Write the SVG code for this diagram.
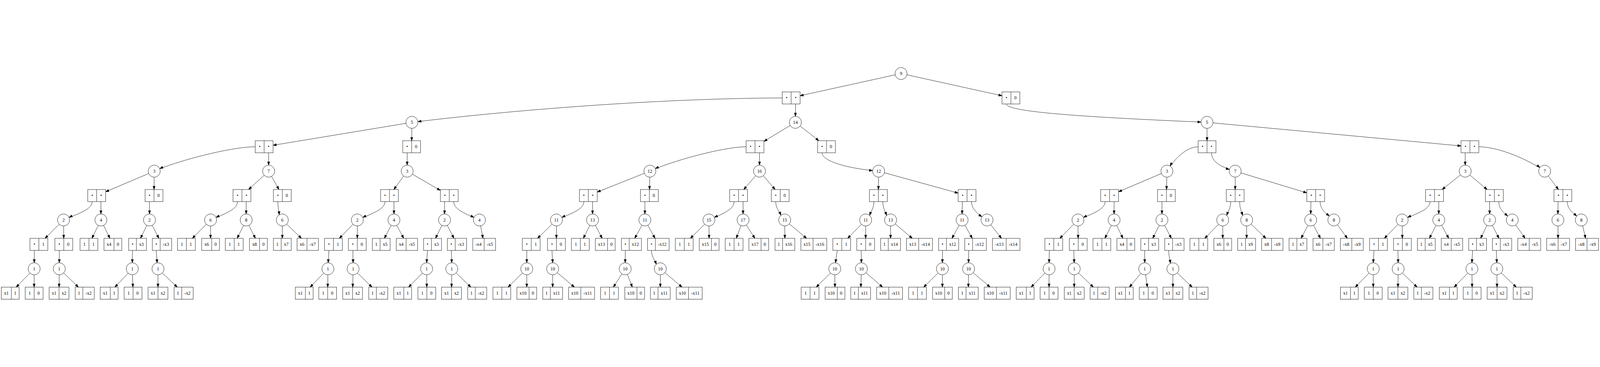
<svg xmlns="http://www.w3.org/2000/svg" width="6421" height="939" viewBox="0 0 6421 939">
<style>
svg{max-width:100vw;max-height:100vh}
text{font-family:"Liberation Serif","Times New Roman",serif;font-size:18.6px;text-anchor:middle;fill:#000}
#edges path{fill:none;stroke:#000;stroke-width:1.33}
#edges .a{marker-end:url(#ma)}
#edges .b{marker-end:url(#mb)}
</style>
<defs>
<marker id="ma" markerUnits="userSpaceOnUse" viewBox="0 0 14 10" markerWidth="14" markerHeight="10" refX="13.25" refY="4.65" orient="auto" overflow="visible"><path d="M0,0L13.25,4.65L0,9.3z" fill="#000" stroke="#000" stroke-width="1.2"/></marker>
<marker id="mb" markerUnits="userSpaceOnUse" viewBox="0 0 14 10" markerWidth="14" markerHeight="10" refX="37.45" refY="4.65" orient="auto" overflow="visible"><path d="M0,0L13.25,4.65L0,9.3z" fill="#000" stroke="#000" stroke-width="1.2"/></marker>
<circle id="C" r="24.2" fill="#fff" stroke="#000" stroke-width="1.33"/>
<g id="T1" fill="#fff" stroke="#000" stroke-width="1.33"><rect x="-35.8" y="-24.2" width="71.6" height="48.4"/><path d="M0,-24.2V24.2"/></g>
<g id="T2" fill="#fff" stroke="#000" stroke-width="1.33"><rect x="-35.8" y="-24.2" width="71.6" height="48.4"/><path d="M4.6,-24.2V24.2"/></g>
<g id="T3" fill="#fff" stroke="#000" stroke-width="1.33"><rect x="-35.8" y="-24.2" width="71.6" height="48.4"/><path d="M-4.6,-24.2V24.2"/></g>
<g id="T4" fill="#fff" stroke="#000" stroke-width="1.33"><rect x="-39.8" y="-24.2" width="79.6" height="48.4"/><path d="M0,-24.2V24.2"/></g>
<g id="T5" fill="#fff" stroke="#000" stroke-width="1.33"><rect x="-38.2" y="-24.2" width="76.4" height="48.4"/><path d="M-7.7,-24.2V24.2"/></g>
<g id="T6" fill="#fff" stroke="#000" stroke-width="1.33"><rect x="-38.7" y="-24.2" width="77.4" height="48.4"/><path d="M-7.2,-24.2V24.2"/></g>
<g id="T7" fill="#fff" stroke="#000" stroke-width="1.33"><rect x="-42.85" y="-24.2" width="85.7" height="48.4"/><path d="M-3.05,-24.2V24.2"/></g>
<g id="T8" fill="#fff" stroke="#000" stroke-width="1.33"><rect x="-45.9" y="-24.2" width="91.8" height="48.4"/><path d="M0,-24.2V24.2"/></g>
<g id="T9" fill="#fff" stroke="#000" stroke-width="1.33"><rect x="-39.75" y="-24.2" width="79.5" height="48.4"/><path d="M9.25,-24.2V24.2"/></g>
<g id="T10" fill="#fff" stroke="#000" stroke-width="1.33"><rect x="-39.75" y="-24.2" width="79.5" height="48.4"/><path d="M-9.25,-24.2V24.2"/></g>
<g id="T11" fill="#fff" stroke="#000" stroke-width="1.33"><rect x="-40.25" y="-24.2" width="80.5" height="48.4"/><path d="M-8.75,-24.2V24.2"/></g>
<g id="T12" fill="#fff" stroke="#000" stroke-width="1.33"><rect x="-43.35" y="-24.2" width="86.7" height="48.4"/><path d="M-11.85,-24.2V24.2"/></g>
<g id="T13" fill="#fff" stroke="#000" stroke-width="1.33"><rect x="-52.1" y="-24.2" width="104.2" height="48.4"/><path d="M-3.1,-24.2V24.2"/></g>
<g id="T14" fill="#fff" stroke="#000" stroke-width="1.33"><rect x="-55.2" y="-24.2" width="110.4" height="48.4"/><path d="M0,-24.2V24.2"/></g>
</defs>
<rect width="6421" height="939" fill="#fff"/>
<g id="edges">
<path class="a" d="M3616,28.4L3210.8,117.5"/>
<path class="a" d="M3616,28.4L4021.2,117.5"/>
<path class="b" d="M3139.2,126.3C2650,128 2050,175 1653,224.2"/>
<path class="a" d="M3193,150.5L3192,200"/>
<path class="b" d="M4039,150.5C4039,185 4400,205 4844,224.2"/>
<path class="a" d="M1653,224.2L1095.8,316.2"/>
<path class="a" d="M1653,224.2L1652.2,297.9"/>
<path class="a" d="M3192,224.2L3065.8,300.5"/>
<path class="a" d="M3192,224.2L3286.1,297.9"/>
<path class="a" d="M4844,224.2L4844,297.9"/>
<path class="a" d="M4844,224.2L5863.2,318.8"/>
<path class="b" d="M1024.2,322.1C920,323 701,382 619,420"/>
<path class="a" d="M1078,346.3L1078,395.8"/>
<path class="a" d="M1634,346.3L1634,395.8"/>
<path class="b" d="M2994.2,322.1C2900,323 2690,381 2608,420"/>
<path class="a" d="M3048,346.3L3048,395.8"/>
<path class="b" d="M3299.1,346.3C3299,378 3390,408 3526,420"/>
<path class="b" d="M4808.2,322.1C4760,323 4712,372 4683,420"/>
<path class="b" d="M4861.9,346.3C4862,385 4904,404.6 4957,420"/>
<path class="a" d="M5880,346.3L5880,395.8"/>
<path class="b" d="M5934.8,322.1C6030,323 6160,390 6199,420"/>
<path class="a" d="M619,420L423.8,502.7"/>
<path class="a" d="M619,420L618.2,493.7"/>
<path class="a" d="M1078,420L997.5,493.7"/>
<path class="a" d="M1078,420L1119.4,493.7"/>
<path class="a" d="M1634,420L1580.6,493.7"/>
<path class="a" d="M1634,420L1767.2,497.2"/>
<path class="a" d="M2608,420L2396.8,503.7"/>
<path class="a" d="M2608,420L2606.5,493.7"/>
<path class="a" d="M3048,420L2984.8,493.7"/>
<path class="a" d="M3048,420L3110.5,493.7"/>
<path class="a" d="M3526,420L3525.2,493.7"/>
<path class="a" d="M3526,420L3845.2,508"/>
<path class="a" d="M4683,420L4488.8,502.7"/>
<path class="a" d="M4683,420L4681.5,493.7"/>
<path class="a" d="M4957,420L4957,493.7"/>
<path class="a" d="M4957,420L5244.2,507"/>
<path class="a" d="M5880,420L5787.4,493.7"/>
<path class="a" d="M5880,420L5968.1,493.7"/>
<path class="a" d="M6199,420L6254,493.7"/>
<path class="b" d="M370.1,542.1C370.1,577 300,594.3 255,615.8"/>
<path class="b" d="M953.1,542.1C953.1,577 890,594.3 845,615.8"/>
<path class="b" d="M1545.1,542.1C1545.1,577 1479,594.3 1434,615.8"/>
<path class="b" d="M1820.9,542.1C1820.9,577 1879,594.3 1924,615.8"/>
<path class="b" d="M2343.1,542.1C2343.1,577 2278,594.3 2233,615.8"/>
<path class="b" d="M2946.1,542.1C2946.1,577 2890,594.3 2845,615.8"/>
<path class="b" d="M3898.9,542.1C3898.9,575 3927.4,594.2 3961,615.8"/>
<path class="b" d="M4435.1,542.1C4435.1,577 4371,594.3 4326,615.8"/>
<path class="b" d="M5297.9,542.1C5297.9,575 5322.6,589.8 5353,615.8"/>
<path class="b" d="M5739.1,542.1C5739.1,577 5672,594.3 5627,615.8"/>
<path class="b" d="M6014.9,542.1C6014.9,575 6038.6,589.8 6069,615.8"/>
<path class="b" d="M6289.9,542.1C6289.9,575 6315.6,589.8 6346,615.8"/>
<path class="a" d="M1115.1,542.1C1115.1,565 1119.5,578 1120.5,595.1"/>
<path class="a" d="M3113.1,542.1C3113.1,568 3127,580 3134,596.8"/>
<path class="a" d="M3507.1,542.1C3507.1,568 3495,582 3490,597.6"/>
<path class="a" d="M3542.9,542.1C3542.9,568 3553,582 3558,597.6"/>
<path class="a" d="M4939.1,542.1C4939.1,568 4928,582 4923,597.6"/>
<path class="a" d="M4974.9,542.1C4974.9,568 4982,582 4987,597.6"/>
<path class="a" d="M405,542.1L405,591.6"/>
<path class="a" d="M600,542.1L600,591.6"/>
<path class="a" d="M988,542.1L988,591.6"/>
<path class="a" d="M1581,542.1L1581,591.6"/>
<path class="a" d="M1784,542.1L1784,591.6"/>
<path class="a" d="M2378,542.1L2378,591.6"/>
<path class="a" d="M2588,542.1L2588,591.6"/>
<path class="a" d="M2982,542.1L2982,591.6"/>
<path class="a" d="M3862,542.1L3861,591.6"/>
<path class="a" d="M4471,542.1L4471,591.6"/>
<path class="a" d="M4663,542.1L4663,591.6"/>
<path class="a" d="M5261,542.1L5260,591.6"/>
<path class="a" d="M5774,542.1L5774,591.6"/>
<path class="a" d="M5978,542.1L5978,591.6"/>
<path class="a" d="M6253,542.1L6252,591.6"/>
<path class="a" d="M255,615.8L180.5,689.5"/>
<path class="a" d="M255,615.8L255.8,689.5"/>
<path class="a" d="M405,615.8L368.9,689.5"/>
<path class="a" d="M405,615.8L441.1,689.5"/>
<path class="a" d="M600,615.8L563.9,689.5"/>
<path class="a" d="M600,615.8L637.6,689.5"/>
<path class="a" d="M845,615.8L772,689.5"/>
<path class="a" d="M845,615.8L845,689.5"/>
<path class="a" d="M988,615.8L951.9,689.5"/>
<path class="a" d="M988,615.8L1024.9,689.5"/>
<path class="a" d="M1133,615.8L1133,689.5"/>
<path class="a" d="M1133,615.8L1209.8,689.5"/>
<path class="a" d="M1434,615.8L1361.7,689.5"/>
<path class="a" d="M1434,615.8L1434,689.5"/>
<path class="a" d="M1581,615.8L1542.6,689.5"/>
<path class="a" d="M1581,615.8L1620.1,689.5"/>
<path class="a" d="M1784,615.8L1747.9,689.5"/>
<path class="a" d="M1784,615.8L1821.6,689.5"/>
<path class="a" d="M1924,615.8L1938.3,689.5"/>
<path class="a" d="M2233,615.8L2157,689.5"/>
<path class="a" d="M2233,615.8L2233,689.5"/>
<path class="a" d="M2378,615.8L2341.1,689.5"/>
<path class="a" d="M2378,615.8L2416.4,689.5"/>
<path class="a" d="M2588,615.8L2547.3,689.5"/>
<path class="a" d="M2588,615.8L2628.7,689.5"/>
<path class="a" d="M2845,615.8L2770.5,689.5"/>
<path class="a" d="M2845,615.8L2845.8,689.5"/>
<path class="a" d="M2982,615.8L2954.9,689.5"/>
<path class="a" d="M2982,615.8L3029.4,689.5"/>
<path class="a" d="M3149,615.8L3149.8,689.5"/>
<path class="a" d="M3149,615.8L3237.1,689.5"/>
<path class="a" d="M3474,615.8L3401.7,689.5"/>
<path class="a" d="M3474,615.8L3474,689.5"/>
<path class="a" d="M3574,615.8L3574,689.5"/>
<path class="a" d="M3574,615.8L3661.3,689.5"/>
<path class="a" d="M3861,615.8L3820.3,689.5"/>
<path class="a" d="M3861,615.8L3901.7,689.5"/>
<path class="a" d="M3961,615.8L4019,689.5"/>
<path class="a" d="M4326,615.8L4253,689.5"/>
<path class="a" d="M4326,615.8L4326.8,689.5"/>
<path class="a" d="M4471,615.8L4434.1,689.5"/>
<path class="a" d="M4471,615.8L4506.4,689.5"/>
<path class="a" d="M4663,615.8L4626.1,689.5"/>
<path class="a" d="M4663,615.8L4700.6,689.5"/>
<path class="a" d="M4907,615.8L4834.7,689.5"/>
<path class="a" d="M4907,615.8L4907,689.5"/>
<path class="a" d="M5003,615.8L5003,689.5"/>
<path class="a" d="M5003,615.8L5080.5,689.5"/>
<path class="a" d="M5260,615.8L5221.6,689.5"/>
<path class="a" d="M5260,615.8L5299.1,689.5"/>
<path class="a" d="M5353,615.8L5407.2,689.5"/>
<path class="a" d="M5627,615.8L5555.5,689.5"/>
<path class="a" d="M5627,615.8L5627.8,689.5"/>
<path class="a" d="M5774,615.8L5736.4,689.5"/>
<path class="a" d="M5774,615.8L5813.9,689.5"/>
<path class="a" d="M5978,615.8L5941.9,689.5"/>
<path class="a" d="M5978,615.8L6015.6,689.5"/>
<path class="a" d="M6069,615.8L6120.2,689.5"/>
<path class="a" d="M6252,615.8L6252.8,689.5"/>
<path class="a" d="M6346,615.8L6363.3,689.5"/>
<path class="a" d="M138,737.9L137.4,787.4"/>
<path class="a" d="M238.1,737.9L238,787.4"/>
<path class="a" d="M531.8,737.9L531,787.4"/>
<path class="a" d="M627,737.9L630.5,787.7"/>
<path class="a" d="M1320.1,737.9L1317,787.4"/>
<path class="a" d="M1416.1,737.9L1417,787.4"/>
<path class="a" d="M1715.8,737.9L1712,787.4"/>
<path class="a" d="M1811,737.9L1813,787.4"/>
<path class="a" d="M2114.1,737.9L2114,787.4"/>
<path class="a" d="M2215.1,737.9L2218,787.4"/>
<path class="a" d="M2509.5,737.9L2509,787.4"/>
<path class="a" d="M2614.4,737.9C2614.4,762 2628,778 2634,793.4"/>
<path class="a" d="M3360.1,737.9L3353,787.6"/>
<path class="a" d="M3456.1,737.9L3457,787.4"/>
<path class="a" d="M3782.5,737.9L3782,787.4"/>
<path class="a" d="M3887.4,737.9L3887,787.4"/>
<path class="a" d="M4211.1,737.9L4210,787.4"/>
<path class="a" d="M4309.1,737.9L4311,787.4"/>
<path class="a" d="M4593.8,737.9L4594,787.4"/>
<path class="a" d="M4690,737.9C4690,760 4695,772 4697,789.6"/>
<path class="a" d="M5514.1,737.9L5511,787.4"/>
<path class="a" d="M5610.1,737.9L5611,787.4"/>
<path class="a" d="M5909.8,737.9L5907,787.4"/>
<path class="a" d="M6005,737.9L6007,787.4"/>
<path class="a" d="M137,811.6L64.7,885.3"/>
<path class="a" d="M137,811.6L137,885.3"/>
<path class="a" d="M238,811.6L237.2,885.3"/>
<path class="a" d="M238,811.6L314.8,885.3"/>
<path class="a" d="M531,811.6L461,885.3"/>
<path class="a" d="M531,811.6L533.3,885.3"/>
<path class="a" d="M634,811.6L634,885.3"/>
<path class="a" d="M634,811.6L711.5,885.3"/>
<path class="a" d="M1316,811.6L1244.5,885.3"/>
<path class="a" d="M1316,811.6L1315.2,885.3"/>
<path class="a" d="M1417,811.6L1415.5,885.3"/>
<path class="a" d="M1417,811.6L1493,885.3"/>
<path class="a" d="M1712,811.6L1639.7,885.3"/>
<path class="a" d="M1712,811.6L1712.8,885.3"/>
<path class="a" d="M1813,811.6L1812.2,885.3"/>
<path class="a" d="M1813,811.6L1889.8,885.3"/>
<path class="a" d="M2114,811.6L2038.7,885.3"/>
<path class="a" d="M2114,811.6L2114,885.3"/>
<path class="a" d="M2218,811.6L2218,885.3"/>
<path class="a" d="M2218,811.6L2305.3,885.3"/>
<path class="a" d="M2509,811.6L2461.6,885.3"/>
<path class="a" d="M2509,811.6L2537.6,885.3"/>
<path class="a" d="M2650,811.6L2650,885.3"/>
<path class="a" d="M2650,811.6L2737.3,885.3"/>
<path class="a" d="M3350,811.6L3275.5,885.3"/>
<path class="a" d="M3350,811.6L3350.8,885.3"/>
<path class="a" d="M3457,811.6L3454.7,885.3"/>
<path class="a" d="M3457,811.6L3542.1,885.3"/>
<path class="a" d="M3782,811.6L3706.7,885.3"/>
<path class="a" d="M3782,811.6L3782,885.3"/>
<path class="a" d="M3887,811.6L3886.2,885.3"/>
<path class="a" d="M3887,811.6L3973.6,885.3"/>
<path class="a" d="M4210,811.6L4137.7,885.3"/>
<path class="a" d="M4210,811.6L4210,885.3"/>
<path class="a" d="M4311,811.6L4311,885.3"/>
<path class="a" d="M4311,811.6L4387.8,885.3"/>
<path class="a" d="M4594,811.6L4532.3,885.3"/>
<path class="a" d="M4594,811.6L4604.5,885.3"/>
<path class="a" d="M4707,811.6L4707,885.3"/>
<path class="a" d="M4707,811.6L4784.5,885.3"/>
<path class="a" d="M5511,811.6L5438.7,885.3"/>
<path class="a" d="M5511,811.6L5511,885.3"/>
<path class="a" d="M5611,811.6L5610.2,885.3"/>
<path class="a" d="M5611,811.6L5687,885.3"/>
<path class="a" d="M5907,811.6L5835.5,885.3"/>
<path class="a" d="M5907,811.6L5907.8,885.3"/>
<path class="a" d="M6007,811.6L6007.8,885.3"/>
<path class="a" d="M6007,811.6L6085.3,885.3"/>
</g>
<g id="nodes">
<g id="n0" transform="translate(3616,28.4)"><use href="#C"/><text y="6">9</text></g>
<g id="n1_1" transform="translate(3175,126.3)"><use href="#T1"/><text x="-17.9" y="6">•</text><text x="17.9" y="6">•</text></g>
<g id="n1_2" transform="translate(4057,126.3)"><use href="#T1"/><text x="-17.9" y="6">•</text><text x="17.9" y="6">0</text></g>
<g id="n2_1" transform="translate(1653,224.2)"><use href="#C"/><text y="6">5</text></g>
<g id="n2_2" transform="translate(3192,224.2)"><use href="#C"/><text y="6">14</text></g>
<g id="n2_3" transform="translate(4844,224.2)"><use href="#C"/><text y="6">5</text></g>
<g id="n3_1" transform="translate(1060,322.1)"><use href="#T1"/><text x="-17.9" y="6">•</text><text x="17.9" y="6">•</text></g>
<g id="n3_2" transform="translate(1652,322.1)"><use href="#T1"/><text x="-17.9" y="6">•</text><text x="17.9" y="6">0</text></g>
<g id="n3_3" transform="translate(3030,322.1)"><use href="#T1"/><text x="-17.9" y="6">•</text><text x="17.9" y="6">•</text></g>
<g id="n3_4" transform="translate(3317,322.1)"><use href="#T1"/><text x="-17.9" y="6">•</text><text x="17.9" y="6">0</text></g>
<g id="n3_5" transform="translate(4844,322.1)"><use href="#T1"/><text x="-17.9" y="6">•</text><text x="17.9" y="6">•</text></g>
<g id="n3_6" transform="translate(5899,322.1)"><use href="#T1"/><text x="-17.9" y="6">•</text><text x="17.9" y="6">•</text></g>
<g id="n4_1" transform="translate(619,420)"><use href="#C"/><text y="6">3</text></g>
<g id="n4_2" transform="translate(1078,420)"><use href="#C"/><text y="6">7</text></g>
<g id="n4_3" transform="translate(1634,420)"><use href="#C"/><text y="6">3</text></g>
<g id="n4_4" transform="translate(2608,420)"><use href="#C"/><text y="6">12</text></g>
<g id="n4_5" transform="translate(3048,420)"><use href="#C"/><text y="6">16</text></g>
<g id="n4_6" transform="translate(3526,420)"><use href="#C"/><text y="6">12</text></g>
<g id="n4_7" transform="translate(4683,420)"><use href="#C"/><text y="6">3</text></g>
<g id="n4_8" transform="translate(4957,420)"><use href="#C"/><text y="6">7</text></g>
<g id="n4_9" transform="translate(5880,420)"><use href="#C"/><text y="6">3</text></g>
<g id="n4_10" transform="translate(6199,420)"><use href="#C"/><text y="6">7</text></g>
<g id="n5_1" transform="translate(388,517.9)"><use href="#T1"/><text x="-17.9" y="6">•</text><text x="17.9" y="6">•</text></g>
<g id="n5_2" transform="translate(618,517.9)"><use href="#T1"/><text x="-17.9" y="6">•</text><text x="17.9" y="6">0</text></g>
<g id="n5_3" transform="translate(971,517.9)"><use href="#T1"/><text x="-17.9" y="6">•</text><text x="17.9" y="6">•</text></g>
<g id="n5_4" transform="translate(1133,517.9)"><use href="#T1"/><text x="-17.9" y="6">•</text><text x="17.9" y="6">0</text></g>
<g id="n5_5" transform="translate(1563,517.9)"><use href="#T1"/><text x="-17.9" y="6">•</text><text x="17.9" y="6">•</text></g>
<g id="n5_6" transform="translate(1803,517.9)"><use href="#T1"/><text x="-17.9" y="6">•</text><text x="17.9" y="6">•</text></g>
<g id="n5_7" transform="translate(2361,517.9)"><use href="#T1"/><text x="-17.9" y="6">•</text><text x="17.9" y="6">•</text></g>
<g id="n5_8" transform="translate(2606,517.9)"><use href="#T1"/><text x="-17.9" y="6">•</text><text x="17.9" y="6">0</text></g>
<g id="n5_9" transform="translate(2964,517.9)"><use href="#T1"/><text x="-17.9" y="6">•</text><text x="17.9" y="6">•</text></g>
<g id="n5_10" transform="translate(3131,517.9)"><use href="#T1"/><text x="-17.9" y="6">•</text><text x="17.9" y="6">0</text></g>
<g id="n5_11" transform="translate(3525,517.9)"><use href="#T1"/><text x="-17.9" y="6">•</text><text x="17.9" y="6">•</text></g>
<g id="n5_12" transform="translate(3881,517.9)"><use href="#T1"/><text x="-17.9" y="6">•</text><text x="17.9" y="6">•</text></g>
<g id="n5_13" transform="translate(4453,517.9)"><use href="#T1"/><text x="-17.9" y="6">•</text><text x="17.9" y="6">•</text></g>
<g id="n5_14" transform="translate(4681,517.9)"><use href="#T1"/><text x="-17.9" y="6">•</text><text x="17.9" y="6">0</text></g>
<g id="n5_15" transform="translate(4957,517.9)"><use href="#T1"/><text x="-17.9" y="6">•</text><text x="17.9" y="6">•</text></g>
<g id="n5_16" transform="translate(5280,517.9)"><use href="#T1"/><text x="-17.9" y="6">•</text><text x="17.9" y="6">•</text></g>
<g id="n5_17" transform="translate(5757,517.9)"><use href="#T1"/><text x="-17.9" y="6">•</text><text x="17.9" y="6">•</text></g>
<g id="n5_18" transform="translate(5997,517.9)"><use href="#T1"/><text x="-17.9" y="6">•</text><text x="17.9" y="6">•</text></g>
<g id="n5_19" transform="translate(6272,517.9)"><use href="#T1"/><text x="-17.9" y="6">•</text><text x="17.9" y="6">•</text></g>
<g id="n6_1" transform="translate(255,615.8)"><use href="#C"/><text y="6">2</text></g>
<g id="n6_2" transform="translate(405,615.8)"><use href="#C"/><text y="6">4</text></g>
<g id="n6_3" transform="translate(600,615.8)"><use href="#C"/><text y="6">2</text></g>
<g id="n6_4" transform="translate(845,615.8)"><use href="#C"/><text y="6">6</text></g>
<g id="n6_5" transform="translate(988,615.8)"><use href="#C"/><text y="6">8</text></g>
<g id="n6_6" transform="translate(1133,615.8)"><use href="#C"/><text y="6">6</text></g>
<g id="n6_7" transform="translate(1434,615.8)"><use href="#C"/><text y="6">2</text></g>
<g id="n6_8" transform="translate(1581,615.8)"><use href="#C"/><text y="6">4</text></g>
<g id="n6_9" transform="translate(1784,615.8)"><use href="#C"/><text y="6">2</text></g>
<g id="n6_10" transform="translate(1924,615.8)"><use href="#C"/><text y="6">4</text></g>
<g id="n6_11" transform="translate(2233,615.8)"><use href="#C"/><text y="6">11</text></g>
<g id="n6_12" transform="translate(2378,615.8)"><use href="#C"/><text y="6">13</text></g>
<g id="n6_13" transform="translate(2588,615.8)"><use href="#C"/><text y="6">11</text></g>
<g id="n6_14" transform="translate(2845,615.8)"><use href="#C"/><text y="6">15</text></g>
<g id="n6_15" transform="translate(2982,615.8)"><use href="#C"/><text y="6">17</text></g>
<g id="n6_16" transform="translate(3149,615.8)"><use href="#C"/><text y="6">15</text></g>
<g id="n6_17" transform="translate(3474,615.8)"><use href="#C"/><text y="6">11</text></g>
<g id="n6_18" transform="translate(3574,615.8)"><use href="#C"/><text y="6">13</text></g>
<g id="n6_19" transform="translate(3861,615.8)"><use href="#C"/><text y="6">11</text></g>
<g id="n6_20" transform="translate(3961,615.8)"><use href="#C"/><text y="6">13</text></g>
<g id="n6_21" transform="translate(4326,615.8)"><use href="#C"/><text y="6">2</text></g>
<g id="n6_22" transform="translate(4471,615.8)"><use href="#C"/><text y="6">4</text></g>
<g id="n6_23" transform="translate(4663,615.8)"><use href="#C"/><text y="6">2</text></g>
<g id="n6_24" transform="translate(4907,615.8)"><use href="#C"/><text y="6">6</text></g>
<g id="n6_25" transform="translate(5003,615.8)"><use href="#C"/><text y="6">8</text></g>
<g id="n6_26" transform="translate(5260,615.8)"><use href="#C"/><text y="6">6</text></g>
<g id="n6_27" transform="translate(5353,615.8)"><use href="#C"/><text y="6">8</text></g>
<g id="n6_28" transform="translate(5627,615.8)"><use href="#C"/><text y="6">2</text></g>
<g id="n6_29" transform="translate(5774,615.8)"><use href="#C"/><text y="6">4</text></g>
<g id="n6_30" transform="translate(5978,615.8)"><use href="#C"/><text y="6">2</text></g>
<g id="n6_31" transform="translate(6069,615.8)"><use href="#C"/><text y="6">4</text></g>
<g id="n6_32" transform="translate(6252,615.8)"><use href="#C"/><text y="6">6</text></g>
<g id="n6_33" transform="translate(6346,615.8)"><use href="#C"/><text y="6">8</text></g>
<g id="n7_1" transform="translate(156,713.7)"><use href="#T1"/><text x="-17.9" y="6">•</text><text x="17.9" y="6">1</text></g>
<g id="n7_2" transform="translate(256,713.7)"><use href="#T1"/><text x="-17.9" y="6">•</text><text x="17.9" y="6">0</text></g>
<g id="n7_3" transform="translate(357,713.7)"><use href="#T1"/><text x="-17.9" y="6">1</text><text x="17.9" y="6">1</text></g>
<g id="n7_4" transform="translate(453,713.7)"><use href="#T2"/><text x="-15.6" y="6">x4</text><text x="20.2" y="6">0</text></g>
<g id="n7_5" transform="translate(552,713.7)"><use href="#T3"/><text x="-20.2" y="6">•</text><text x="15.6" y="6">x3</text></g>
<g id="n7_6" transform="translate(650,713.7)"><use href="#T6"/><text x="-22.95" y="6">•</text><text x="15.75" y="6">-x3</text></g>
<g id="n7_7" transform="translate(748,713.7)"><use href="#T1"/><text x="-17.9" y="6">1</text><text x="17.9" y="6">1</text></g>
<g id="n7_8" transform="translate(845,713.7)"><use href="#T2"/><text x="-15.6" y="6">x6</text><text x="20.2" y="6">0</text></g>
<g id="n7_9" transform="translate(940,713.7)"><use href="#T1"/><text x="-17.9" y="6">1</text><text x="17.9" y="6">1</text></g>
<g id="n7_10" transform="translate(1037,713.7)"><use href="#T2"/><text x="-15.6" y="6">x8</text><text x="20.2" y="6">0</text></g>
<g id="n7_11" transform="translate(1133,713.7)"><use href="#T3"/><text x="-20.2" y="6">1</text><text x="15.6" y="6">x7</text></g>
<g id="n7_12" transform="translate(1235,713.7)"><use href="#T7"/><text x="-22.95" y="6">x6</text><text x="19.9" y="6">-x7</text></g>
<g id="n7_13" transform="translate(1338,713.7)"><use href="#T1"/><text x="-17.9" y="6">•</text><text x="17.9" y="6">1</text></g>
<g id="n7_14" transform="translate(1434,713.7)"><use href="#T1"/><text x="-17.9" y="6">•</text><text x="17.9" y="6">0</text></g>
<g id="n7_15" transform="translate(1530,713.7)"><use href="#T3"/><text x="-20.2" y="6">1</text><text x="15.6" y="6">x5</text></g>
<g id="n7_16" transform="translate(1633,713.7)"><use href="#T7"/><text x="-22.95" y="6">x4</text><text x="19.9" y="6">-x5</text></g>
<g id="n7_17" transform="translate(1736,713.7)"><use href="#T3"/><text x="-20.2" y="6">•</text><text x="15.6" y="6">x3</text></g>
<g id="n7_18" transform="translate(1834,713.7)"><use href="#T6"/><text x="-22.95" y="6">•</text><text x="15.75" y="6">-x3</text></g>
<g id="n7_19" transform="translate(1943,713.7)"><use href="#T8"/><text x="-22.95" y="6">-x4</text><text x="22.95" y="6">-x5</text></g>
<g id="n7_20" transform="translate(2132,713.7)"><use href="#T1"/><text x="-17.9" y="6">•</text><text x="17.9" y="6">1</text></g>
<g id="n7_21" transform="translate(2233,713.7)"><use href="#T1"/><text x="-17.9" y="6">•</text><text x="17.9" y="6">0</text></g>
<g id="n7_22" transform="translate(2329,713.7)"><use href="#T1"/><text x="-17.9" y="6">1</text><text x="17.9" y="6">1</text></g>
<g id="n7_23" transform="translate(2429,713.7)"><use href="#T9"/><text x="-15.25" y="6">x13</text><text x="24.5" y="6">0</text></g>
<g id="n7_24" transform="translate(2534,713.7)"><use href="#T11"/><text x="-24.5" y="6">•</text><text x="15.75" y="6">x12</text></g>
<g id="n7_25" transform="translate(2642,713.7)"><use href="#T12"/><text x="-27.6" y="6">•</text><text x="15.75" y="6">-x12</text></g>
<g id="n7_26" transform="translate(2746,713.7)"><use href="#T1"/><text x="-17.9" y="6">1</text><text x="17.9" y="6">1</text></g>
<g id="n7_27" transform="translate(2846,713.7)"><use href="#T9"/><text x="-15.25" y="6">x15</text><text x="24.5" y="6">0</text></g>
<g id="n7_28" transform="translate(2946,713.7)"><use href="#T1"/><text x="-17.9" y="6">1</text><text x="17.9" y="6">1</text></g>
<g id="n7_29" transform="translate(3045,713.7)"><use href="#T9"/><text x="-15.25" y="6">x17</text><text x="24.5" y="6">0</text></g>
<g id="n7_30" transform="translate(3150,713.7)"><use href="#T10"/><text x="-24.5" y="6">1</text><text x="15.25" y="6">x16</text></g>
<g id="n7_31" transform="translate(3266,713.7)"><use href="#T13"/><text x="-27.6" y="6">x15</text><text x="24.5" y="6">-x16</text></g>
<g id="n7_32" transform="translate(3378,713.7)"><use href="#T1"/><text x="-17.9" y="6">•</text><text x="17.9" y="6">1</text></g>
<g id="n7_33" transform="translate(3474,713.7)"><use href="#T1"/><text x="-17.9" y="6">•</text><text x="17.9" y="6">0</text></g>
<g id="n7_34" transform="translate(3574,713.7)"><use href="#T10"/><text x="-24.5" y="6">1</text><text x="15.25" y="6">x14</text></g>
<g id="n7_35" transform="translate(3690,713.7)"><use href="#T13"/><text x="-27.6" y="6">x13</text><text x="24.5" y="6">-x14</text></g>
<g id="n7_36" transform="translate(3807,713.7)"><use href="#T11"/><text x="-24.5" y="6">•</text><text x="15.75" y="6">x12</text></g>
<g id="n7_37" transform="translate(3915,713.7)"><use href="#T12"/><text x="-27.6" y="6">•</text><text x="15.75" y="6">-x12</text></g>
<g id="n7_38" transform="translate(4038,713.7)"><use href="#T14"/><text x="-27.6" y="6">-x13</text><text x="27.6" y="6">-x14</text></g>
<g id="n7_39" transform="translate(4229,713.7)"><use href="#T1"/><text x="-17.9" y="6">•</text><text x="17.9" y="6">1</text></g>
<g id="n7_40" transform="translate(4327,713.7)"><use href="#T1"/><text x="-17.9" y="6">•</text><text x="17.9" y="6">0</text></g>
<g id="n7_41" transform="translate(4422,713.7)"><use href="#T1"/><text x="-17.9" y="6">1</text><text x="17.9" y="6">1</text></g>
<g id="n7_42" transform="translate(4518,713.7)"><use href="#T2"/><text x="-15.6" y="6">x4</text><text x="20.2" y="6">0</text></g>
<g id="n7_43" transform="translate(4614,713.7)"><use href="#T3"/><text x="-20.2" y="6">•</text><text x="15.6" y="6">x3</text></g>
<g id="n7_44" transform="translate(4713,713.7)"><use href="#T6"/><text x="-22.95" y="6">•</text><text x="15.75" y="6">-x3</text></g>
<g id="n7_45" transform="translate(4811,713.7)"><use href="#T1"/><text x="-17.9" y="6">1</text><text x="17.9" y="6">1</text></g>
<g id="n7_46" transform="translate(4907,713.7)"><use href="#T2"/><text x="-15.6" y="6">x6</text><text x="20.2" y="6">0</text></g>
<g id="n7_47" transform="translate(5003,713.7)"><use href="#T3"/><text x="-20.2" y="6">1</text><text x="15.6" y="6">x9</text></g>
<g id="n7_48" transform="translate(5106,713.7)"><use href="#T7"/><text x="-22.95" y="6">x8</text><text x="19.9" y="6">-x9</text></g>
<g id="n7_49" transform="translate(5209,713.7)"><use href="#T3"/><text x="-20.2" y="6">1</text><text x="15.6" y="6">x7</text></g>
<g id="n7_50" transform="translate(5312,713.7)"><use href="#T7"/><text x="-22.95" y="6">x6</text><text x="19.9" y="6">-x7</text></g>
<g id="n7_51" transform="translate(5425,713.7)"><use href="#T8"/><text x="-22.95" y="6">-x8</text><text x="22.95" y="6">-x9</text></g>
<g id="n7_52" transform="translate(5532,713.7)"><use href="#T1"/><text x="-17.9" y="6">•</text><text x="17.9" y="6">1</text></g>
<g id="n7_53" transform="translate(5628,713.7)"><use href="#T1"/><text x="-17.9" y="6">•</text><text x="17.9" y="6">0</text></g>
<g id="n7_54" transform="translate(5724,713.7)"><use href="#T3"/><text x="-20.2" y="6">1</text><text x="15.6" y="6">x5</text></g>
<g id="n7_55" transform="translate(5827,713.7)"><use href="#T7"/><text x="-22.95" y="6">x4</text><text x="19.9" y="6">-x5</text></g>
<g id="n7_56" transform="translate(5930,713.7)"><use href="#T3"/><text x="-20.2" y="6">•</text><text x="15.6" y="6">x3</text></g>
<g id="n7_57" transform="translate(6028,713.7)"><use href="#T6"/><text x="-22.95" y="6">•</text><text x="15.75" y="6">-x3</text></g>
<g id="n7_58" transform="translate(6137,713.7)"><use href="#T8"/><text x="-22.95" y="6">-x4</text><text x="22.95" y="6">-x5</text></g>
<g id="n7_59" transform="translate(6253,713.7)"><use href="#T8"/><text x="-22.95" y="6">-x6</text><text x="22.95" y="6">-x7</text></g>
<g id="n7_60" transform="translate(6369,713.7)"><use href="#T8"/><text x="-22.95" y="6">-x8</text><text x="22.95" y="6">-x9</text></g>
<g id="n8_1" transform="translate(137,811.6)"><use href="#C"/><text y="6">1</text></g>
<g id="n8_2" transform="translate(238,811.6)"><use href="#C"/><text y="6">1</text></g>
<g id="n8_3" transform="translate(531,811.6)"><use href="#C"/><text y="6">1</text></g>
<g id="n8_4" transform="translate(634,811.6)"><use href="#C"/><text y="6">1</text></g>
<g id="n8_5" transform="translate(1316,811.6)"><use href="#C"/><text y="6">1</text></g>
<g id="n8_6" transform="translate(1417,811.6)"><use href="#C"/><text y="6">1</text></g>
<g id="n8_7" transform="translate(1712,811.6)"><use href="#C"/><text y="6">1</text></g>
<g id="n8_8" transform="translate(1813,811.6)"><use href="#C"/><text y="6">1</text></g>
<g id="n8_9" transform="translate(2114,811.6)"><use href="#C"/><text y="6">10</text></g>
<g id="n8_10" transform="translate(2218,811.6)"><use href="#C"/><text y="6">10</text></g>
<g id="n8_11" transform="translate(2509,811.6)"><use href="#C"/><text y="6">10</text></g>
<g id="n8_12" transform="translate(2650,811.6)"><use href="#C"/><text y="6">10</text></g>
<g id="n8_13" transform="translate(3350,811.6)"><use href="#C"/><text y="6">10</text></g>
<g id="n8_14" transform="translate(3457,811.6)"><use href="#C"/><text y="6">10</text></g>
<g id="n8_15" transform="translate(3782,811.6)"><use href="#C"/><text y="6">10</text></g>
<g id="n8_16" transform="translate(3887,811.6)"><use href="#C"/><text y="6">10</text></g>
<g id="n8_17" transform="translate(4210,811.6)"><use href="#C"/><text y="6">1</text></g>
<g id="n8_18" transform="translate(4311,811.6)"><use href="#C"/><text y="6">1</text></g>
<g id="n8_19" transform="translate(4594,811.6)"><use href="#C"/><text y="6">1</text></g>
<g id="n8_20" transform="translate(4707,811.6)"><use href="#C"/><text y="6">1</text></g>
<g id="n8_21" transform="translate(5511,811.6)"><use href="#C"/><text y="6">1</text></g>
<g id="n8_22" transform="translate(5611,811.6)"><use href="#C"/><text y="6">1</text></g>
<g id="n8_23" transform="translate(5907,811.6)"><use href="#C"/><text y="6">1</text></g>
<g id="n8_24" transform="translate(6007,811.6)"><use href="#C"/><text y="6">1</text></g>
<g id="n9_1" transform="translate(41,909.5)"><use href="#T2"/><text x="-15.6" y="6">x1</text><text x="20.2" y="6">1</text></g>
<g id="n9_2" transform="translate(137,909.5)"><use href="#T1"/><text x="-17.9" y="6">1</text><text x="17.9" y="6">0</text></g>
<g id="n9_3" transform="translate(237,909.5)"><use href="#T4"/><text x="-19.9" y="6">x1</text><text x="19.9" y="6">x2</text></g>
<g id="n9_4" transform="translate(340,909.5)"><use href="#T5"/><text x="-22.95" y="6">1</text><text x="15.25" y="6">-x2</text></g>
<g id="n9_5" transform="translate(438,909.5)"><use href="#T2"/><text x="-15.6" y="6">x1</text><text x="20.2" y="6">1</text></g>
<g id="n9_6" transform="translate(534,909.5)"><use href="#T1"/><text x="-17.9" y="6">1</text><text x="17.9" y="6">0</text></g>
<g id="n9_7" transform="translate(634,909.5)"><use href="#T4"/><text x="-19.9" y="6">x1</text><text x="19.9" y="6">x2</text></g>
<g id="n9_8" transform="translate(737,909.5)"><use href="#T5"/><text x="-22.95" y="6">1</text><text x="15.25" y="6">-x2</text></g>
<g id="n9_9" transform="translate(1221,909.5)"><use href="#T2"/><text x="-15.6" y="6">x1</text><text x="20.2" y="6">1</text></g>
<g id="n9_10" transform="translate(1315,909.5)"><use href="#T1"/><text x="-17.9" y="6">1</text><text x="17.9" y="6">0</text></g>
<g id="n9_11" transform="translate(1415,909.5)"><use href="#T4"/><text x="-19.9" y="6">x1</text><text x="19.9" y="6">x2</text></g>
<g id="n9_12" transform="translate(1518,909.5)"><use href="#T5"/><text x="-22.95" y="6">1</text><text x="15.25" y="6">-x2</text></g>
<g id="n9_13" transform="translate(1616,909.5)"><use href="#T2"/><text x="-15.6" y="6">x1</text><text x="20.2" y="6">1</text></g>
<g id="n9_14" transform="translate(1713,909.5)"><use href="#T1"/><text x="-17.9" y="6">1</text><text x="17.9" y="6">0</text></g>
<g id="n9_15" transform="translate(1812,909.5)"><use href="#T4"/><text x="-19.9" y="6">x1</text><text x="19.9" y="6">x2</text></g>
<g id="n9_16" transform="translate(1915,909.5)"><use href="#T5"/><text x="-22.95" y="6">1</text><text x="15.25" y="6">-x2</text></g>
<g id="n9_17" transform="translate(2014,909.5)"><use href="#T1"/><text x="-17.9" y="6">1</text><text x="17.9" y="6">1</text></g>
<g id="n9_18" transform="translate(2114,909.5)"><use href="#T9"/><text x="-15.25" y="6">x10</text><text x="24.5" y="6">0</text></g>
<g id="n9_19" transform="translate(2218,909.5)"><use href="#T10"/><text x="-24.5" y="6">1</text><text x="15.25" y="6">x11</text></g>
<g id="n9_20" transform="translate(2334,909.5)"><use href="#T13"/><text x="-27.6" y="6">x10</text><text x="24.5" y="6">-x11</text></g>
<g id="n9_21" transform="translate(2446,909.5)"><use href="#T1"/><text x="-17.9" y="6">1</text><text x="17.9" y="6">1</text></g>
<g id="n9_22" transform="translate(2547,909.5)"><use href="#T9"/><text x="-15.25" y="6">x10</text><text x="24.5" y="6">0</text></g>
<g id="n9_23" transform="translate(2650,909.5)"><use href="#T10"/><text x="-24.5" y="6">1</text><text x="15.25" y="6">x11</text></g>
<g id="n9_24" transform="translate(2766,909.5)"><use href="#T13"/><text x="-27.6" y="6">x10</text><text x="24.5" y="6">-x11</text></g>
<g id="n9_25" transform="translate(3251,909.5)"><use href="#T1"/><text x="-17.9" y="6">1</text><text x="17.9" y="6">1</text></g>
<g id="n9_26" transform="translate(3351,909.5)"><use href="#T9"/><text x="-15.25" y="6">x10</text><text x="24.5" y="6">0</text></g>
<g id="n9_27" transform="translate(3454,909.5)"><use href="#T10"/><text x="-24.5" y="6">1</text><text x="15.25" y="6">x11</text></g>
<g id="n9_28" transform="translate(3570,909.5)"><use href="#T13"/><text x="-27.6" y="6">x10</text><text x="24.5" y="6">-x11</text></g>
<g id="n9_29" transform="translate(3682,909.5)"><use href="#T1"/><text x="-17.9" y="6">1</text><text x="17.9" y="6">1</text></g>
<g id="n9_30" transform="translate(3782,909.5)"><use href="#T9"/><text x="-15.25" y="6">x10</text><text x="24.5" y="6">0</text></g>
<g id="n9_31" transform="translate(3886,909.5)"><use href="#T10"/><text x="-24.5" y="6">1</text><text x="15.25" y="6">x11</text></g>
<g id="n9_32" transform="translate(4002,909.5)"><use href="#T13"/><text x="-27.6" y="6">x10</text><text x="24.5" y="6">-x11</text></g>
<g id="n9_33" transform="translate(4114,909.5)"><use href="#T2"/><text x="-15.6" y="6">x1</text><text x="20.2" y="6">1</text></g>
<g id="n9_34" transform="translate(4210,909.5)"><use href="#T1"/><text x="-17.9" y="6">1</text><text x="17.9" y="6">0</text></g>
<g id="n9_35" transform="translate(4311,909.5)"><use href="#T4"/><text x="-19.9" y="6">x1</text><text x="19.9" y="6">x2</text></g>
<g id="n9_36" transform="translate(4413,909.5)"><use href="#T5"/><text x="-22.95" y="6">1</text><text x="15.25" y="6">-x2</text></g>
<g id="n9_37" transform="translate(4512,909.5)"><use href="#T2"/><text x="-15.6" y="6">x1</text><text x="20.2" y="6">1</text></g>
<g id="n9_38" transform="translate(4608,909.5)"><use href="#T1"/><text x="-17.9" y="6">1</text><text x="17.9" y="6">0</text></g>
<g id="n9_39" transform="translate(4707,909.5)"><use href="#T4"/><text x="-19.9" y="6">x1</text><text x="19.9" y="6">x2</text></g>
<g id="n9_40" transform="translate(4810,909.5)"><use href="#T5"/><text x="-22.95" y="6">1</text><text x="15.25" y="6">-x2</text></g>
<g id="n9_41" transform="translate(5415,909.5)"><use href="#T2"/><text x="-15.6" y="6">x1</text><text x="20.2" y="6">1</text></g>
<g id="n9_42" transform="translate(5511,909.5)"><use href="#T1"/><text x="-17.9" y="6">1</text><text x="17.9" y="6">0</text></g>
<g id="n9_43" transform="translate(5610,909.5)"><use href="#T4"/><text x="-19.9" y="6">x1</text><text x="19.9" y="6">x2</text></g>
<g id="n9_44" transform="translate(5712,909.5)"><use href="#T5"/><text x="-22.95" y="6">1</text><text x="15.25" y="6">-x2</text></g>
<g id="n9_45" transform="translate(5812,909.5)"><use href="#T2"/><text x="-15.6" y="6">x1</text><text x="20.2" y="6">1</text></g>
<g id="n9_46" transform="translate(5908,909.5)"><use href="#T1"/><text x="-17.9" y="6">1</text><text x="17.9" y="6">0</text></g>
<g id="n9_47" transform="translate(6008,909.5)"><use href="#T4"/><text x="-19.9" y="6">x1</text><text x="19.9" y="6">x2</text></g>
<g id="n9_48" transform="translate(6111,909.5)"><use href="#T5"/><text x="-22.95" y="6">1</text><text x="15.25" y="6">-x2</text></g>
</g>
</svg>
